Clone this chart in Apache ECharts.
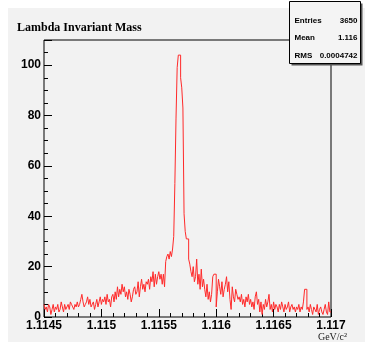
<!DOCTYPE html>
<html><head><meta charset="utf-8">
<script src="https://cdn.jsdelivr.net/npm/echarts@6/dist/echarts.min.js"></script>
<style>html,body{margin:0;padding:0;background:#fff}#c{width:365px;height:349px}</style>
</head><body><div id="c"></div>
<script>
// Histogram definition: 250 bins from 1.1145 to 1.117 GeV/c^2
const xMin = 1.1145;
const xMax = 1.117;
const binWidth = 0.00001;
const xTickLabels = ['1.1145', '1.115', '1.1155', '1.116', '1.1165', '1.117'];
const yTickLabels = ['0', '20', '40', '60', '80', '100'];
const titleText = 'Lambda Invariant Mass';
const xUnit = 'GeV/c\u00B2';
const statsLabels = ['Entries', 'Mean', 'RMS'];
const statsValues = ['3650', '1.116', '0.0004742'];

const counts = [
  5,3,4,2,5,4,1,3,5,2,
  4,3,5,2,3,6,4,2,5,3,
  4,5,3,6,5,4,3,5,4,6,
  4,5,7,9,6,4,5,6,8,5,
  7,4,5,6,3,5,7,4,6,8,
  5,7,6,8,5,9,6,7,4,8,
  9,6,10,7,12,8,11,9,13,10,
  12,8,10,7,11,9,6,8,11,12,
  9,10,14,8,12,15,11,13,10,14,
  13,15,11,16,14,18,12,17,13,16,
  18,15,17,13,17,12,22,24,25,23,
  26,24,27,32,53,79,99,104,104,95,
  91,83,41,34,31,31,23,21,18,16,
  20,14,16,23,13,17,11,19,12,15,
  11,8,13,7,10,6,9,16,17,17,
  4,10,15,12,9,14,8,11,13,16,
  10,14,7,3,12,8,6,11,9,7,
  8,6,9,5,7,4,8,6,9,5,
  7,4,6,3,8,10,5,7,2,6,
  1,5,3,7,4,6,9,3,5,2,
  6,3,5,4,2,5,3,6,4,2,
  5,3,4,6,2,4,5,3,4,2,
  4,3,5,2,4,3,6,11,11,3,
  4,2,5,3,1,4,3,2,5,1,
  3,4,2,1,3,5,2,1,6,2
];

const histData = counts.map((v, i) => [+(xMin + i * binWidth).toFixed(6), v]);
histData.push([xMax, counts[counts.length - 1]]);

const chart = echarts.init(document.getElementById('c'), null, {renderer: 'canvas'});
const axisFont = {fontFamily: 'Liberation Sans', fontWeight: 'bold', fontSize: 12, color: '#000'};

chart.setOption({
  animation: false,
  backgroundColor: '#fff',
  graphic: [
    {type: 'rect', z: -10, shape: {x: 8, y: 8, width: 357, height: 334}, style: {fill: '#f2f2f2'}, silent: true},
    {type: 'text', left: 17, top: 22, style: {text: titleText, font: 'bold 12px "Liberation Serif"', fill: '#000'}},
    {type: 'text', right: 18, top: 332, style: {text: xUnit, font: '10px "Liberation Serif"', fill: '#222'}},
    {type: 'group', left: 289, top: 1, z: 100, children: [
      {type: 'rect', shape: {x: 2, y: 2, width: 71, height: 62}, style: {fill: '#555'}},
      {type: 'rect', shape: {x: 0, y: 0, width: 71, height: 62}, style: {fill: '#f4f4f4', stroke: '#000', lineWidth: 1}},
      ...statsLabels.map((t, k) => ({type: 'text', x: 5, y: 19 + k * 17.5,
        style: {text: t, font: 'bold 8px "Liberation Sans"', fill: '#000', textVerticalAlign: 'middle'}})),
      ...statsValues.map((t, k) => ({type: 'text', x: 68, y: 19 + k * 17.5,
        style: {text: t, font: 'bold 8px "Liberation Sans"', fill: '#000', textAlign: 'right', textVerticalAlign: 'middle'}}))
    ]}
  ],
  grid: {left: 44, right: 34, top: 40, bottom: 32, show: true, backgroundColor: '#f2f2f2', borderColor: '#000', borderWidth: 1},
  xAxis: {
    type: 'value', min: xMin, max: xMax, interval: 0.0005,
    axisLine: {show: false},
    axisTick: {show: true, inside: true, length: 8, lineStyle: {color: '#000'}},
    minorTick: {show: true, splitNumber: 5, length: 4, lineStyle: {color: '#000'}},
    splitLine: {show: false},
    axisLabel: Object.assign({margin: 3, showMinLabel: true, showMaxLabel: true,
      formatter: v => { const s = (+v.toFixed(5)).toString(); return xTickLabels.includes(s) ? s : ''; }}, axisFont)
  },
  yAxis: {
    type: 'value', min: 0, max: 110, interval: 20,
    axisLine: {show: false},
    axisTick: {show: true, inside: true, length: 8, lineStyle: {color: '#000'}},
    minorTick: {show: true, splitNumber: 4, length: 4, lineStyle: {color: '#000'}},
    splitLine: {show: false},
    axisLabel: Object.assign({margin: 3, showMaxLabel: false,
      formatter: v => yTickLabels.includes(String(v)) ? String(v) : ''}, axisFont)
  },
  series: [{
    type: 'line', data: histData, step: 'end', symbol: 'none',
    lineStyle: {color: '#ff2a2a', width: 1}, clip: true
  }]
});
</script></body></html>
